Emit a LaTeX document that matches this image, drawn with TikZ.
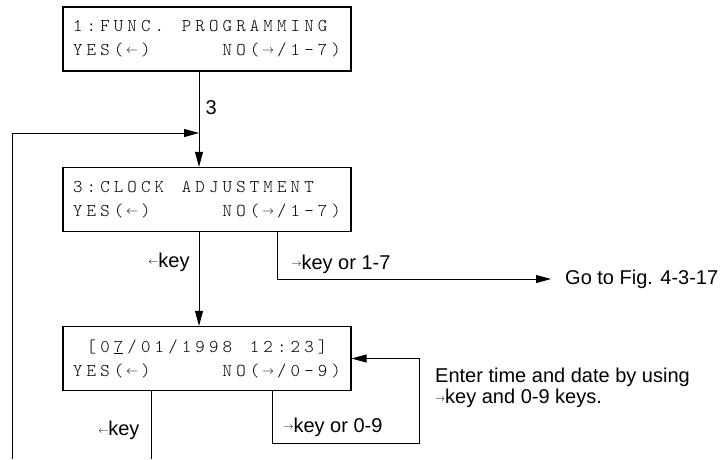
\documentclass[tikz,border=0pt]{standalone}
\usepackage{fontspec}
\setmainfont{Liberation Sans}
\newfontfamily\lcdfont{lmmonolt10-regular.otf}
\usepackage{tikz}
\usetikzlibrary{
  arrows.meta,
  positioning
}
\newlength\lcdpitch
\setlength\lcdpitch{13.6pt}
% one display cell per character
\ExplSyntaxOn
\NewDocumentCommand\lcdline{m}{\tl_map_inline:nn{#1}{\makebox[\lcdpitch]{##1}}}
\ExplSyntaxOff
\newcommand\lcdleft{\raisebox{2pt}{$\scriptstyle\leftarrow$}}
\newcommand\lcdright{\raisebox{2pt}{$\scriptstyle\rightarrow$}}
\newcommand\keyleft{\raisebox{2.5pt}{$\scriptscriptstyle\leftarrow$}}
\newcommand\keyright{\raisebox{2.5pt}{$\scriptscriptstyle\rightarrow$}}

\begin{document}
\begin{tikzpicture}[x=1pt, y=-1pt,
  lcdbox/.style={draw, line width=1.2pt, minimum width=288pt, minimum height=64pt,
    inner sep=0pt, text width=272pt, align=left, font=\fontsize{18}{24}\lcdfont},
  flow/.style={line width=1pt, -{Triangle[length=15pt,width=8pt]}},
  wire/.style={line width=1pt},
  note/.style={font=\fontsize{20}{21}\selectfont, inner sep=0pt}]
  \useasboundingbox (0,0) rectangle (727,459);

  % menu screens
  \node[lcdbox] (func) at (207,39)
    {\lcdline{1:FUNC.~PROGRAMMING}\\\lcdline{YES({\lcdleft})~~~~~NO({\lcdright}/1-7)}};
  \node[lcdbox] (clock) at (207,199.5)
    {\lcdline{3:CLOCK~ADJUSTMENT}\\\lcdline{YES({\lcdleft})~~~~~NO({\lcdright}/1-7)}};
  \node[lcdbox] (date) at (207,358.5)
    {\lcdline{~[0{\underline{7}}/01/1998~12:23]}\\\lcdline{YES({\lcdleft})~~~~~NO({\lcdright}/0-9)}};

  % turning points
  \coordinate (merge) at (199,133);
  \coordinate (loopfoot) at (12,459);
  \coordinate (skip) at (277,278);
  \coordinate (edit) at (272,443);
  \coordinate (editturn) at (419,443);
  \coordinate (yesfoot) at (151,459);

  \node[note, anchor=west, inner xsep=14pt] (goto) at (551,279) {Go to Fig. 4-3-17};
  \node[note, anchor=north west, align=left] (hint) at (435,368)
    {Enter time and date by using\\\keyright key and 0-9 keys.};

  % connectors
  \draw[flow] (func.south -| merge) --
    node[note, right=6pt, pos=0.38] {3} (clock.north -| merge);
  \draw[flow] (loopfoot) |- (merge);
  \draw[flow] (clock.south -| merge) --
    node[note, left=9pt, pos=0.32] {\keyleft key} (date.north -| merge);
  \draw[flow] (clock.south -| skip) |-
    node[note, anchor=south west, pos=0.5, xshift=14pt, yshift=5pt] {\keyright key or 1-7} (goto.west);
  \draw[flow] (date.south -| edit) |-
    node[note, anchor=south west, pos=0.5, xshift=11pt, yshift=6pt] {\keyright key or 0-9} (editturn)
    |- (date.east);
  \draw[wire] (date.south -| yesfoot) --
    node[note, left=11pt, pos=0.58] {\keyleft key} (yesfoot);
\end{tikzpicture}
\end{document}
